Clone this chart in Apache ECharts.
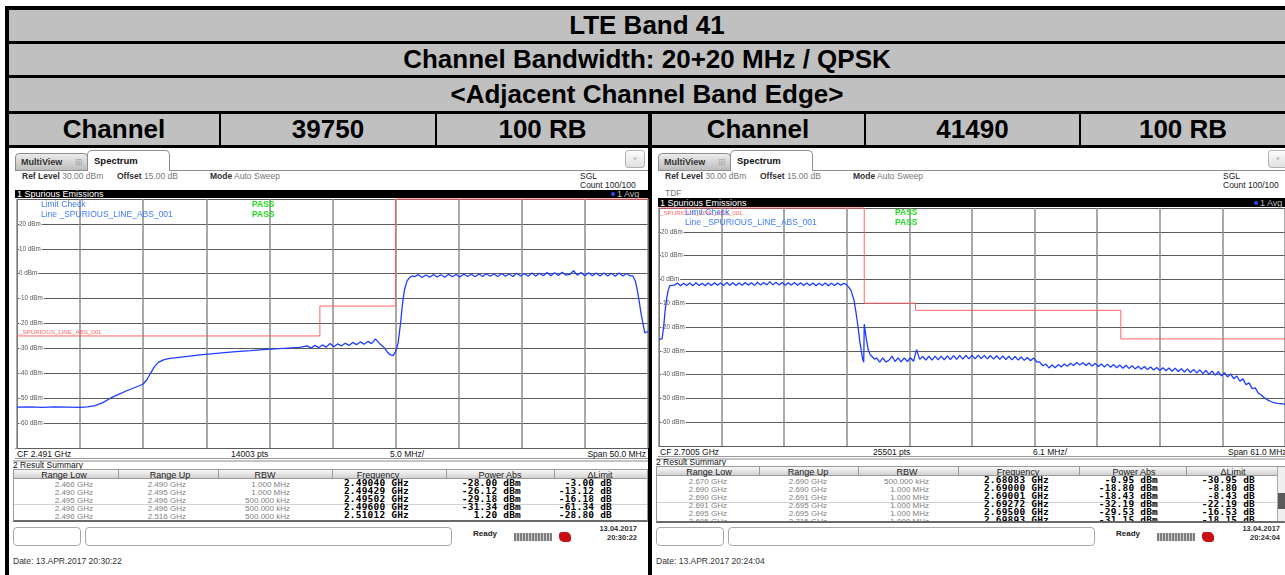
<!DOCTYPE html>
<html><head><meta charset="utf-8">
<script src="https://cdn.jsdelivr.net/npm/echarts@6.0.0/dist/echarts.min.js"></script>
<style>
html,body{margin:0;padding:0}
body{width:1285px;height:575px;overflow:hidden;background:#fff;position:relative;font-family:"Liberation Sans",Arial,sans-serif}
.a{position:absolute;box-sizing:border-box;white-space:nowrap}
#chart{position:absolute;left:0;top:0;width:1285px;height:575px;z-index:5;pointer-events:none}
</style></head><body>
<div id="chart"></div>
<script>
// ---------------- header texts ----------------
const TITLE_ROWS = ["LTE Band 41", "Channel Bandwidth: 20+20 MHz / QPSK", "<Adjacent Channel Band Edge>"];
const CHANNEL_ROW = ["Channel", "39750", "100 RB", "Channel", "41490", "100 RB"];
const Y_TICKS_DBM = [30, 20, 10, 0, -10, -20, -30, -40, -50, -60, -70];
const TABLE_HEAD = ["Range Low", "Range Up", "RBW", "Frequency", "Power Abs", "\u0394Limit"];

// ---------------- left screenshot (channel 39750) ----------------
const LEFT_START_MHZ = 2466, LEFT_SPAN_MHZ = 50, LEFT_DIV_MHZ = 5;
const leftLimitFreq  = [2466, 2490, 2490, 2496, 2496, 2516];
const leftLimitLevel = [-25, -25, -13, -13, 30, 30];
const leftRampFreq  = [2466,2467,2468,2469,2470,2471,2471.6,2472.2,2472.8,2473.4,2474.0,2474.7,2475.4,2476.0,2476.3,2476.6,2476.9,2477.2,2477.6,2478.0,2479.0,2480.5,2481.8,2483.1,2484.5,2485.8,2487.1,2488.4];
const leftRampLevel = [-53.6,-53.5,-53.7,-53.5,-53.6,-53.7,-53.5,-53.0,-51.8,-50.0,-48.6,-47.0,-45.6,-44.3,-42.5,-39.8,-37.3,-35.6,-34.6,-34.1,-33.5,-32.6,-32.0,-31.4,-30.9,-30.4,-30.0,-29.6];
const leftNoiseStart = 2489.0, leftNoiseStep = 0.3;
const leftNoiseLevel = [-29.0,-29.9,-28.8,-29.7,-28.6,-29.5,-28.0,-29.3,-28.2,-29.0,-27.9,-28.8,-27.6,-28.5,-27.4,-28.3,-27.2,-28.1,-26.2,-27.9];
const leftDipFreq  = [2495.0,2495.2,2495.4,2495.6,2495.8,2496.0,2496.2,2496.4,2496.55,2496.7,2496.9,2497.1,2497.3];
const leftDipLevel = [-29.2,-30.4,-31.8,-32.6,-32.9,-31.3,-27.9,-19.5,-12.0,-6.5,-3.0,-1.6,-0.9];
const leftBandStart = 2497.5, leftBandStep = 0.3;
const leftBandLevel = [-1.2,-0.4,-1.5,-0.5,-1.4,-0.3,-1.3,-0.4,-1.4,-0.2,
 -1.2,-0.3,-1.3,-0.1,-1.1,-0.2,-1.2,-0.1,-1.1,0.0,
 -1.0,-0.1,-1.1,0.1,-1.0,-0.1,-1.1,0.2,-0.9,0.1,
 -1.0,0.3,-0.9,0.2,-0.8,0.5,-0.8,0.4,-0.7,0.6,
 -0.6,-0.3,1.2,-0.6,0.5,-0.8,0.4,-0.8,0.3,-0.9,
 0.3,-0.9,0.2,-1.0,0.3,-0.9,0.1,-0.9];
const leftEdgeFreq  = [2514.8,2515.0,2515.15,2515.3,2515.45,2515.6,2515.75,2515.9,2516.0];
const leftEdgeLevel = [-0.9,-3.0,-6.5,-11.0,-16.0,-20.0,-23.8,-23.6,-23.2];

const leftRangeLow  = ["2.466 GHz","2.490 GHz","2.495 GHz","2.496 GHz","2.496 GHz"];
const leftRangeUp   = ["2.490 GHz","2.495 GHz","2.496 GHz","2.496 GHz","2.516 GHz"];
const leftRbw       = ["1.000 MHz","1.000 MHz","500.000 kHz","500.000 kHz","500.000 kHz"];
const leftPeakFreq  = ["2.49040 GHz","2.49429 GHz","2.49502 GHz","2.49600 GHz","2.51012 GHz"];
const leftPowerAbs  = ["-28.00 dBm","-26.12 dBm","-29.18 dBm","-31.34 dBm","1.20 dBm"];
const leftDeltaLim  = ["-3.00 dB","-13.12 dB","-16.18 dB","-61.34 dB","-28.80 dB"];
const leftFooter    = ["CF 2.491 GHz","14003 pts","5.0 MHz/","Span 50.0 MHz"];
const leftStamp     = ["13.04.2017","20:30:22","Date: 13.APR.2017  20:30:22"];

// ---------------- right screenshot (channel 41490) ----------------
const RIGHT_START_MHZ = 2670, RIGHT_SPAN_MHZ = 61, RIGHT_DIV_MHZ = 6.1;
const rightLimitFreq  = [2670, 2690, 2690, 2695, 2695, 2715, 2715, 2731];
const rightLimitLevel = [30, 30, -10, -10, -13, -13, -25, -25];
const rightRiseFreq  = [2670.0,2670.3,2670.45,2670.6,2670.75,2670.9,2671.05,2671.2];
const rightRiseLevel = [-25.3,-24.9,-20.0,-13.0,-8.0,-4.5,-2.6,-1.8];
const rightBandStart = 2671.5, rightBandStep = 0.3;
const rightBandLevel = [-2.4,-1.5,-2.7,-1.6,-2.6,-1.5,-2.7,-1.4,-2.6,-1.6,
 -2.7,-1.5,-2.6,-1.4,-2.5,-1.5,-2.6,-1.3,-2.5,-1.4,
 -2.6,-1.5,-2.5,-1.3,-2.4,-1.4,-2.5,-1.2,-2.4,-1.3,
 -2.3,-0.95,-2.3,-1.2,-2.4,-1.3,-2.5,-1.4,-2.4,-1.3,
 -2.5,-1.4,-2.6,-1.5,-2.6,-1.5,-2.7,-1.6,-2.6,-1.5,
 -2.7,-1.6,-2.6,-1.5,-2.5,-1.6,-2.3];
const rightFallFreq  = [2688.45,2688.7,2689.0,2689.2,2689.4,2689.55,2689.7,2689.85,2689.95,2690.0,2690.02,2690.2,2690.4,2690.6,2690.8,2691.0];
const rightFallLevel = [-2.2,-4.5,-8.7,-14.0,-20.0,-25.5,-29.8,-33.5,-34.8,-18.8,-18.4,-24.9,-29.8,-31.8,-32.6,-33.5];
const rightSpurStart = 2691.2, rightSpurStep = 0.3;
const rightSpurLevel = [-33.0,-34.8,-33.0,-34.7,-34.0,-32.2,-34.5,-33.0,-34.6,-33.0,
 -34.5,-32.9,-34.4,-29.5,-33.6,-32.4,-33.9,-32.3,-33.9,-32.2,
 -33.8,-32.2,-33.8,-32.1,-33.7,-32.0,-33.6,-31.9,-33.5,-31.9,
 -33.4,-31.8,-33.4,-31.8,-33.3,-31.9,-33.4,-32.0,-33.5,-32.1,
 -33.6,-32.2,-33.7,-32.3,-33.8,-32.4,-33.9,-32.6,-34.0,-32.8,
 -34.2,-33.0,-34.6,-34.8,-36.3,-35.6,-37.2,-36.0,-37.1,-35.8,
 -36.8,-35.5,-36.5,-35.2,-36.2,-34.9,-36.0,-35.0,-36.2,-35.1,
 -36.4,-35.3,-36.6,-35.5,-36.8,-35.6,-36.9,-35.8,-37.1,-36.0,
 -37.3,-36.1,-37.4,-36.3,-37.6,-36.5,-37.8,-36.6,-37.9,-36.8,
 -38.1,-37.0,-38.3,-37.1,-38.4,-37.2,-38.6,-37.3,-38.7,-37.5,
 -38.9,-37.6,-39.1,-37.8,-39.3,-38.0,-39.6,-38.2,-39.9,-38.5,
 -40.2,-38.8,-40.5,-39.2,-41.0,-39.7,-41.7,-40.6,-42.8,-41.8,
 -44.2,-43.5,-45.9,-45.6,-47.8,-48.6,-49.8,-50.6,-51.3,-51.8];
const rightTailFreq  = [2730.3, 2731.0];
const rightTailLevel = [-52.1, -52.4];

const rightRangeLow = ["2.670 GHz","2.690 GHz","2.690 GHz","2.691 GHz","2.695 GHz","2.695 GHz"];
const rightRangeUp  = ["2.690 GHz","2.690 GHz","2.691 GHz","2.695 GHz","2.695 GHz","2.715 GHz"];
const rightRbw      = ["500.000 kHz","1.000 MHz","1.000 MHz","1.000 MHz","1.000 MHz","1.000 MHz"];
const rightPeakFreq = ["2.68083 GHz","2.69000 GHz","2.69001 GHz","2.69272 GHz","2.69500 GHz","2.69893 GHz"];
const rightPowerAbs = ["-0.95 dBm","-18.80 dBm","-18.43 dBm","-32.19 dBm","-29.53 dBm","-31.15 dBm"];
const rightDeltaLim = ["-30.95 dB","-8.80 dB","-8.43 dB","-22.19 dB","-16.53 dB","-18.15 dB"];
const rightFooter   = ["CF 2.7005 GHz","25501 pts","6.1 MHz/","Span 61.0 MHz"];
const rightStamp    = ["13.04.2017","20:24:04","Date: 13.APR.2017  20:24:04"];

// ---------------- DOM helpers ----------------
function box(x,y,w,h,css,parent){const d=document.createElement('div');d.className='a';d.style.cssText=`left:${x}px;top:${y}px;width:${w}px;height:${h}px;${css||''}`;(parent||document.body).appendChild(d);return d;}
function txt(x,yc,s,css,align,parent,html){const d=document.createElement('div');d.className='a';let st=`top:${yc-8}px;height:16px;line-height:16px;${css||''};`;
 if(align==='right')st+=`left:${x-300}px;width:300px;text-align:right;`;else if(align==='center')st+=`left:${x-300}px;width:600px;text-align:center;`;else st+=`left:${x}px;`;
 d.style.cssText=st;if(html)d.innerHTML=s;else d.textContent=s;(parent||document.body).appendChild(d);return d;}

// ---------------- header table ----------------
box(5,6,1280,142,'background:#000');
const rowTops=[10,44,78], rowHs=[31,31,33];
TITLE_ROWS.forEach((s,i)=>{const d=box(9,rowTops[i],1276,rowHs[i],`background:#c0c0c0;font:bold 26px "Liberation Sans",Arial;text-align:center;line-height:${rowHs[i]}px;color:#000`);d.textContent=s;});
const cellX=[[9,219],[221,435],[437,648],[652,864],[866,1079],[1081,1285]];
CHANNEL_ROW.forEach((s,i)=>{const [a,b]=cellX[i];const d=box(a,114,b-a,31,'background:#c0c0c0;font:bold 26px "Liberation Sans",Arial;text-align:center;line-height:31px;color:#000');d.textContent=s;});
box(5,148,4,427,'background:#000');
box(648,148,4,427,'background:#000');

// ---------------- screenshot chrome ----------------
function panel(P){
 const X=P.ox;
 box(15+X,170,633,1,'background:#8e8e8e');
 const mv=box(15+X,153,73,18,'background:linear-gradient(#ececec,#bcbcbc);border:1px solid #8e8e8e;border-radius:4px 4px 0 0;font:bold 9px "Liberation Sans";color:#333;padding-left:5px;line-height:16px');
 mv.innerHTML='MultiView<span style="position:absolute;right:4px;top:0;color:#a8a8a8;font-weight:normal">\u229E</span>';
 const sp=box(87+X,150,83,21,'background:#fff;border:1px solid #8e8e8e;border-bottom:none;border-radius:5px 5px 0 0;font:bold 9.5px "Liberation Sans";color:#111;padding-left:6px;line-height:19px');sp.textContent='Spectrum';
 const dd=box(625+X,150,20,18,'border:1px solid #b4b4b4;border-radius:3px;background:linear-gradient(#fdfdfd,#e0e0e0);color:#bbb;font-size:6px;text-align:center;line-height:16px');dd.textContent='\u25BC';
 const f='font-size:8.5px;';
 txt(22+X,176,'<b style="color:#333">Ref Level</b> <span style="color:#777">30.00 dBm</span>',f,'left',null,true);
 txt(117+X,176,'<b style="color:#333">Offset</b> <span style="color:#777">15.00 dB</span>',f,'left',null,true);
 txt(210+X,176,'<b style="color:#333">Mode</b> <span style="color:#777">Auto Sweep</span>',f,'left',null,true);
 txt(580+X,176,'SGL',f+'color:#222');
 txt(580+X,185,'Count 100/100',f+'color:#222');
 if(P.tdf) txt(22+X,193,'TDF',f+'color:#777');
 box(15+X,P.barTop,633,P.barH,'background:#000');
 txt(17+X,P.barTop+P.barH/2,'1 Spurious Emissions','font-size:9px;color:#fff');
 box(611+X,P.barTop+P.barH/2-2,4,4,'background:#2a4bff;border-radius:2px');
 txt(617+X,P.barTop+P.barH/2,'1 Avg','font-size:9px;color:#bbb');
 // footer of the diagram
 box(15+X,P.cfTop,633,11,'border-top:1px solid #9a9a9a;border-bottom:1px solid #9a9a9a;background:#fff');
 const cy=P.cfTop+5.5, ff='font-size:8.5px;color:#111;';
 txt(17+X,cy,P.footer[0],ff); txt(P.ptsX,cy,P.footer[1],ff); txt(P.divX,cy,P.footer[2],ff);
 if(P.spanRight) txt(P.spanRight,cy,P.footer[3],ff,'right'); else txt(P.spanLeft,cy,P.footer[3],ff);
 box(13+X,P.cfTop+12,635,2,'background:#c4c4c4');
 txt(13+X,P.sumY,'2 Result Summary','font-size:8.5px;color:#111');
 // result table
 const tl=13+X, tw=P.tblRight-tl;
 box(tl,P.tblTop,tw,P.tblBottom-P.tblTop,'border:1px solid #9a9a9a;border-bottom:2px solid #6a6a6a;background:#fff');
 box(tl+1,P.tblTop+1,tw-2,P.headH,'background:linear-gradient(#f8f8f8,#d2d2d2);border-bottom:1px solid #9a9a9a');
 P.dividers.forEach(x=>box(x,P.tblTop+1,1,P.headH,'background:#9a9a9a'));
 TABLE_HEAD.forEach((s,i)=>txt(P.headC[i],P.tblTop+1+P.headH/2,s,'font-size:9px;color:#222','center'));
 const bTop=P.tblTop+1+P.headH, bl=tl+1;
 const body=box(bl,bTop,tw-2,P.tblBottom-2-bTop,'overflow:hidden');
 box(0,P.selY-bTop,tw-2,1,'background:#d0d0d0',body);
 const small='font-size:8px;color:#808080;', bold='font:bold 9.5px "DejaVu Sans Mono",monospace;letter-spacing:0.2px;color:#000;';
 P.rows.forEach((col,c)=>col.forEach((s,r)=>txt(P.valR[c]-bl,P.rowY[r]-bTop,s,c<3?small:bold,'right',body)));
 if(P.scroll){box(1277,P.tblTop+1,8,P.tblBottom-P.tblTop-3,'background:#efefef;border-left:1px solid #aaa');box(1278,P.tblTop+27,7,16,'background:#5a5a5a');}
 // status bar
 box(13+X,527,68,19,'border:1px solid #a8a8a8;border-radius:4px;background:#fff');
 box(85+X,527,367,19,'border:1px solid #a8a8a8;border-radius:4px;background:#fff');
 txt(473+X,537,'Ready','font:bold 8px "Liberation Sans";color:#222');
 box(514+X,533,38,8,'background:repeating-linear-gradient(90deg,#7c7c7c 0 2px,#cfcfcf 2px 3px)');
 box(559+X,532,12,10,'background:#c81010;border-radius:3px 5px 3px 5px');
 txt(637+X,532,P.stamp[0],'font:bold 7.5px "Liberation Sans";color:#333','right');
 txt(637+X,541,P.stamp[1],'font:bold 7.5px "Liberation Sans";color:#333','right');
 txt(13+X,561,P.stamp[2],'font-size:8.5px;color:#333');
}
panel({ox:0,tdf:false,barTop:190,barH:8,cfTop:448,ptsX:231,divX:390,spanRight:646,footer:leftFooter,
 sumY:465,tblTop:469,headH:9,tblBottom:522,tblRight:648,selY:504,
 dividers:[118,218,332,446,554],headC:[64,170,265,378,500,600],valR:[93,186,290,409,521,612],
 rowY:[484.5,492.5,500.5,508.5,516.5],rows:[leftRangeLow,leftRangeUp,leftRbw,leftPeakFreq,leftPowerAbs,leftDeltaLim],
 stamp:leftStamp,scroll:false});
panel({ox:643,tdf:true,barTop:198,barH:9,cfTop:446,ptsX:873,divX:1033,spanLeft:1228,footer:rightFooter,
 sumY:462,tblTop:466,headH:9,tblBottom:523,tblRight:1285,selY:502,
 dividers:[759,858,958,1079,1186],headC:[709,808,907,1018,1134,1233],valR:[727,827,929,1049,1158,1255],
 rowY:[482,490,498,506,514,522],rows:[rightRangeLow,rightRangeUp,rightRbw,rightPeakFreq,rightPowerAbs,rightDeltaLim],
 stamp:rightStamp,scroll:true});

// ---------------- chart ----------------
function pairs(freqs, levels, start){return freqs.map((f,i)=>[f-start, levels[i]]);}
function swept(f0, step, levels, start){return levels.map((v,i)=>[f0+i*step-start, v]);}
const leftTrace = [].concat(
 pairs(leftRampFreq,leftRampLevel,LEFT_START_MHZ),
 swept(leftNoiseStart,leftNoiseStep,leftNoiseLevel,LEFT_START_MHZ),
 pairs(leftDipFreq,leftDipLevel,LEFT_START_MHZ),
 swept(leftBandStart,leftBandStep,leftBandLevel,LEFT_START_MHZ),
 pairs(leftEdgeFreq,leftEdgeLevel,LEFT_START_MHZ));
const rightTrace = [].concat(
 pairs(rightRiseFreq,rightRiseLevel,RIGHT_START_MHZ),
 swept(rightBandStart,rightBandStep,rightBandLevel,RIGHT_START_MHZ),
 pairs(rightFallFreq,rightFallLevel,RIGHT_START_MHZ),
 swept(rightSpurStart,rightSpurStep,rightSpurLevel,RIGHT_START_MHZ),
 pairs(rightTailFreq,rightTailLevel,RIGHT_START_MHZ));

const yMin = Y_TICKS_DBM[Y_TICKS_DBM.length-1], yMax = Y_TICKS_DBM[0];
function yAxis(gi){return {type:'value',gridIndex:gi,min:yMin,max:yMax,interval:10,
 axisLine:{show:true,lineStyle:{color:'#7a7a7a',width:1}},axisTick:{show:false},
 axisLabel:{inside:true,margin:2,fontSize:6.3,fontFamily:'Liberation Sans',color:'#555',backgroundColor:'#fff',padding:[0,1,0,0],
  formatter:v=>(v===yMax||v===yMin)?'':v+' dBm'},
 splitLine:{show:true,lineStyle:{color:'#5c5c5c',width:1}}};}
function xAxis(gi,span,div){return {type:'value',gridIndex:gi,min:0,max:span,interval:div,
 axisLine:{show:false},axisTick:{show:false},axisLabel:{show:false},
 splitLine:{show:true,lineStyle:{color:'#8c8c8c',width:1.5}}};}
const lineBase={type:'line',showSymbol:false,symbol:'none',animation:false,silent:true};
const limitColor='#ff6464', traceColor='#1f3dff';
const font=(s,b)=>`${b?'bold ':''}${s}px "Liberation Sans", Arial`;
function t(x,y,s,fill,size,b){return {type:'text',z:100,style:{x:x,y:y,text:s,fill:fill,font:font(size,b),textVerticalAlign:'middle',verticalAlign:'middle'}};}

const chart = echarts.init(document.getElementById('chart'), null, {renderer:'canvas'});
chart.setOption({
 animation:false,
 backgroundColor:'transparent',
 grid:[{left:17,top:199,width:631,height:249},{left:659,top:208,width:633,height:238}],
 xAxis:[xAxis(0,LEFT_SPAN_MHZ,LEFT_DIV_MHZ),xAxis(1,RIGHT_SPAN_MHZ,RIGHT_DIV_MHZ)],
 yAxis:[yAxis(0),yAxis(1)],
 series:[
  Object.assign({},lineBase,{xAxisIndex:0,yAxisIndex:0,clip:false,z:3,data:pairs(leftLimitFreq,leftLimitLevel,LEFT_START_MHZ),lineStyle:{color:limitColor,width:1}}),
  Object.assign({},lineBase,{xAxisIndex:0,yAxisIndex:0,z:4,data:leftTrace,lineStyle:{color:traceColor,width:1.3}}),
  Object.assign({},lineBase,{xAxisIndex:1,yAxisIndex:1,clip:false,z:3,data:pairs(rightLimitFreq,rightLimitLevel,RIGHT_START_MHZ),lineStyle:{color:limitColor,width:1}}),
  Object.assign({},lineBase,{xAxisIndex:1,yAxisIndex:1,z:4,data:rightTrace,lineStyle:{color:traceColor,width:1.3}})
 ],
 graphic:[
  t(41,205,'Limit Check','#3d7cff',8.5), t(41,215,'Line _SPURIOUS_LINE_ABS_001','#3d7cff',8.5),
  t(252,205,'PASS','#22dd22',8.5,true), t(252,215,'PASS','#22dd22',8.5,true),
  t(19,332,'_SPURIOUS_LINE_ABS_001',limitColor,6.2),
  t(660,213,'_SPURIOUS_LINE_ABS_001',limitColor,6.2),
  t(685,213,'Limit Check','#3d7cff',8.5), t(685,223,'Line _SPURIOUS_LINE_ABS_001','#3d7cff',8.5),
  t(895,213,'PASS','#22dd22',8.5,true), t(895,223,'PASS','#22dd22',8.5,true)
 ]
});
</script></body></html>
